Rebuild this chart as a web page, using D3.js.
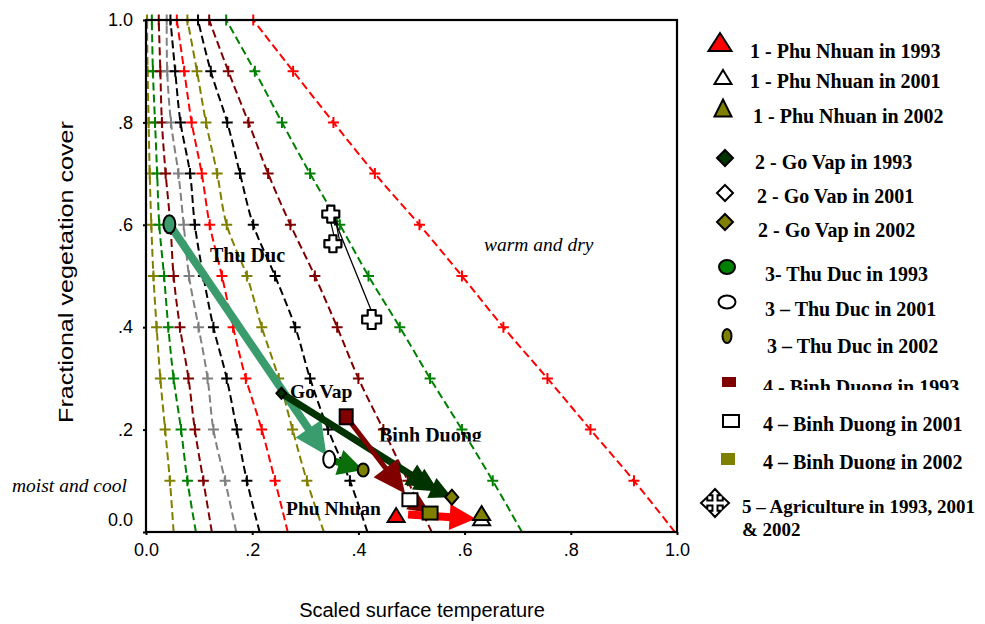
<!DOCTYPE html>
<html><head><meta charset="utf-8">
<script src="https://cdn.jsdelivr.net/npm/d3@7/dist/d3.min.js"></script>
<style>
body{margin:0;background:#fff;}
svg{display:block;}
</style></head>
<body>
<script>
// ---------- DATA ----------
const fvRows = [0, 0.1, 0.2, 0.3, 0.4, 0.5, 0.6, 0.7, 0.8, 0.9, 1.0];
// isolines: scaled surface temperature at each fractional vegetation row
const isoOlive1  = [0.052, 0.045, 0.036, 0.027, 0.020, 0.014, 0.010, 0.007, 0.005, 0.003, 0.002];
const isoGreen1  = [0.094, 0.078, 0.066, 0.052, 0.042, 0.034, 0.025, 0.021, 0.017, 0.013, 0.011];
const isoDarkred1= [0.124, 0.108, 0.092, 0.080, 0.064, 0.052, 0.046, 0.037, 0.030, 0.027, 0.024];
const isoGray    = [0.170, 0.149, 0.127, 0.116, 0.099, 0.081, 0.071, 0.061, 0.047, 0.040, 0.039];
const isoBlack1  = [0.214, 0.190, 0.171, 0.152, 0.127, 0.108, 0.092, 0.083, 0.065, 0.055, 0.046];
const isoRed1    = [0.267, 0.243, 0.218, 0.188, 0.164, 0.143, 0.120, 0.105, 0.086, 0.072, 0.058];
const isoOlive2  = [0.335, 0.303, 0.276, 0.250, 0.218, 0.190, 0.152, 0.134, 0.113, 0.096, 0.078];
const isoBlack2  = [0.417, 0.384, 0.343, 0.309, 0.281, 0.243, 0.202, 0.177, 0.153, 0.122, 0.098];
const isoDarkred2= [0.538, 0.493, 0.447, 0.400, 0.360, 0.318, 0.272, 0.230, 0.193, 0.155, 0.119];
const isoGreen2  = [0.708, 0.653, 0.595, 0.535, 0.478, 0.419, 0.365, 0.309, 0.256, 0.205, 0.151];
const isoRed2    = [0.996, 0.919, 0.837, 0.756, 0.673, 0.595, 0.515, 0.431, 0.353, 0.277, 0.202];

const years = ["1993", "2001", "2002"];
const phuNhuanT  = [0.471, 0.632, 0.632];
const phuNhuanF  = [0.033, 0.027, 0.037];
const goVapT     = [0.255, 0.540, 0.576];
const goVapF     = [0.271, 0.085, 0.068];
const thuDucT    = [0.044, 0.345, 0.409];
const thuDucF    = [0.601, 0.142, 0.121];
const binhDuongT = [0.377, 0.497, 0.535];
const binhDuongF = [0.225, 0.063, 0.037];
const agriT      = [0.348, 0.352, 0.425];
const agriF      = [0.621, 0.563, 0.415];

const xTicks = [0, 0.2, 0.4, 0.6, 0.8, 1.0];
const yTicks = [0, 0.2, 0.4, 0.6, 0.8, 1.0];

const legendLabels = [
  "1 - Phu Nhuan in 1993", "1 - Phu Nhuan in 2001", "1 - Phu Nhuan in 2002",
  "2 - Go Vap in 1993", "2 - Go Vap in 2001", "2 - Go Vap in 2002",
  "3- Thu Duc in 1993", "3 \u2013 Thu Duc in 2001", "3 \u2013 Thu Duc in 2002",
  "4 - Binh Duong in 1993", "4 \u2013 Binh Duong in 2001", "4 \u2013 Binh Duong in 2002",
  "5 \u2013 Agriculture in 1993, 2001", "& 2002"
];

// ---------- LAYOUT ----------
const W = 985, H = 624;
const x = d3.scaleLinear().domain([0, 1]).range([146, 677]);
const y = d3.scaleLinear().domain([0, 1]).range([532, 20]);
const serif = "'Liberation Serif','Times New Roman',serif";
const sans = "'Liberation Sans',Arial,sans-serif";

const svg = d3.select("body").append("svg").attr("width", W).attr("height", H);
const defs = svg.append("defs");
defs.append("clipPath").attr("id", "plotClip").append("rect")
  .attr("x", x(0)).attr("y", y(1) - 6).attr("width", x(1) - x(0) + 2).attr("height", y(0) - y(1) + 6);

// ---------- ISOLINES ----------
const isolines = [
  {v: isoOlive1, c: "#808000"}, {v: isoGreen1, c: "#008000"}, {v: isoDarkred1, c: "#800000"},
  {v: isoGray, c: "#808080"}, {v: isoBlack1, c: "#000000"}, {v: isoRed1, c: "#ff0000"},
  {v: isoOlive2, c: "#808000"}, {v: isoBlack2, c: "#000000"}, {v: isoDarkred2, c: "#800000"},
  {v: isoGreen2, c: "#008000"}, {v: isoRed2, c: "#ff0000"}
];
const lineGen = d3.line().x(d => x(d[0])).y(d => y(d[1])).curve(d3.curveCatmullRom.alpha(0.5));
const gIso = svg.append("g").attr("clip-path", "url(#plotClip)");
isolines.forEach(iso => {
  const pts = iso.v.map((t, i) => [t, fvRows[i]]);
  gIso.append("path").attr("d", lineGen(pts)).attr("fill", "none")
    .attr("stroke", iso.c).attr("stroke-width", 2).attr("stroke-dasharray", "8,4");
  pts.slice(1).forEach(p => {
    const px = x(p[0]), py = y(p[1]);
    gIso.append("path").attr("d", `M${px - 5.5},${py}H${px + 5.5}M${px},${py - 5.5}V${py + 5.5}`)
      .attr("stroke", iso.c).attr("stroke-width", 2);
  });
});

// ---------- AXES & FRAME ----------
const fmt = d => (d === 0 ? "0.0" : d === 1 ? "1.0" : d3.format(".1f")(d).replace(/^0/, ""));
const gx = svg.append("g").attr("transform", `translate(0,${y(0)})`)
  .call(d3.axisBottom(x).tickValues(xTicks).tickFormat(fmt).tickSize(3).tickPadding(7));
const gy = svg.append("g").attr("transform", `translate(${x(0)},0)`)
  .call(d3.axisLeft(y).tickValues(yTicks).tickFormat(fmt).tickSize(3).tickPadding(10));
[gx, gy].forEach(g => {
  g.select(".domain").remove();
  g.selectAll(".tick line").attr("stroke", "#000").attr("stroke-width", 2);
  g.selectAll(".tick text").attr("font-family", sans).attr("font-size", 18).attr("fill", "#000");
});
gx.selectAll(".tick text").attr("dy", "0.8em");
gy.selectAll(".tick").filter(d => d === 0).select("text").attr("dy", "-0.35em");
svg.append("rect").attr("x", x(0)).attr("y", y(1)).attr("width", x(1) - x(0)).attr("height", y(0) - y(1))
  .attr("fill", "none").attr("stroke", "#000").attr("stroke-width", 2.2);

svg.append("text").attr("x", 422).attr("y", 617).attr("text-anchor", "middle")
  .attr("font-family", sans).attr("font-size", 20).text("Scaled surface temperature");
svg.append("text").attr("transform", "translate(73,272) rotate(-90) scale(1.29,1)")
  .attr("text-anchor", "middle").attr("font-family", sans).attr("font-size", 19.5)
  .text("Fractional vegetation cover");

// ---------- ARROWS ----------
const gArr = svg.append("g");
function arrow(x1, y1, x2, y2, color, sw, hl, hw, s0, s1) {
  const dx = x2 - x1, dy = y2 - y1, len = Math.hypot(dx, dy);
  const ux = dx / len, uy = dy / len, px = -uy, py = ux;
  const sx = x1 + ux * s0, sy = y1 + uy * s0;
  const tx = x2 - ux * s1, ty = y2 - uy * s1;
  const bx = tx - ux * hl, by = ty - uy * hl;
  gArr.append("line").attr("x1", sx).attr("y1", sy).attr("x2", bx + ux * 2).attr("y2", by + uy * 2)
    .attr("stroke", color).attr("stroke-width", sw);
  gArr.append("path")
    .attr("d", `M${tx},${ty}L${bx + px * hw / 2},${by + py * hw / 2}L${bx - px * hw / 2},${by - py * hw / 2}Z`)
    .attr("fill", color);
}
// agriculture thin lines
gArr.append("line").attr("x1", x(agriT[2])).attr("y1", y(agriF[2]) - 8)
  .attr("x2", x(agriT[0]) + 3).attr("y2", y(agriF[0]) + 4).attr("stroke", "#000").attr("stroke-width", 1.3);
arrow(x(agriT[0]) - 2, y(agriF[0]), x(agriT[1]) + 3, y(agriF[1]), "#000", 1.2, 7, 5, 2, 2);
arrow(x(agriT[1]) + 8, y(agriF[1]) + 4, x(agriT[0]) + 4, y(agriF[0]) + 2, "#000", 1.2, 7, 5, 0, 2);

// Thu Duc
arrow(x(thuDucT[0]), y(thuDucF[0]), x(thuDucT[1]), y(thuDucF[1]), "#3a9c6c", 8, 32, 31, 0, 5);
arrow(x(thuDucT[1]), y(thuDucF[1]), x(thuDucT[2]), y(thuDucF[2]), "#0a6e0a", 7, 25, 26, 0, 0);
// Go Vap
arrow(x(goVapT[0]), y(goVapF[0]), x(goVapT[1]), y(goVapF[1]), "#003300", 7, 26, 24, 0, 0);
arrow(x(goVapT[1]) - 14, y(goVapF[1]) - 9, x(goVapT[1]) + 6, y(goVapF[1]) + 3, "#003300", 7, 24, 24, 0, 0);
arrow(x(goVapT[1]), y(goVapF[1]), x(goVapT[2]), y(goVapF[2]), "#003300", 7, 22, 22, 0, 0);
// Binh Duong
arrow(x(binhDuongT[0]), y(binhDuongF[0]), x(binhDuongT[1]), y(binhDuongF[1]), "#800000", 5, 32, 30, 6, 8);
arrow(x(binhDuongT[1]), y(binhDuongF[1]), x(binhDuongT[2]), y(binhDuongF[2]), "#800000", 5, 22, 20, 0, 0);
// Phu Nhuan
arrow(x(phuNhuanT[0]), y(phuNhuanF[0]) - 1.5, x(phuNhuanT[1]), y(phuNhuanF[1]) + 1, "#ff0000", 8, 26, 26, 12, 6);

// ---------- MARKERS ----------
function triPath(cx, cy, w, h) {
  return `M${cx},${cy - h / 2}L${cx + w / 2},${cy + h / 2}L${cx - w / 2},${cy + h / 2}Z`;
}
function diaPath(cx, cy, w, h) {
  return `M${cx},${cy - h / 2}L${cx + w / 2},${cy}L${cx},${cy + h / 2}L${cx - w / 2},${cy}Z`;
}
function crossPath(cx, cy, R, arm) {
  const h = R * 0.45, b = R * 0.42, a = R * (arm || 0.18);
  const p = [[0, -R], [b, -R + h], [a, -R + h], [a, -a], [R - h, -a], [R - h, -b], [R, 0], [R - h, b], [R - h, a],
    [a, a], [a, R - h], [b, R - h], [0, R], [-b, R - h], [-a, R - h], [-a, a], [-R + h, a], [-R + h, b], [-R, 0],
    [-R + h, -b], [-R + h, -a], [-a, -a], [-a, -R + h], [-b, -R + h]];
  return "M" + p.map(q => `${cx + q[0]},${cy + q[1]}`).join("L") + "Z";
}
function puffyCross(cx, cy, R) {
  const a = R * 0.42;
  const p = [[-a, -R], [a, -R], [a, -a], [R, -a], [R, a], [a, a], [a, R], [-a, R], [-a, a], [-R, a], [-R, -a], [-a, -a]];
  return "M" + p.map(q => `${cx + q[0]},${cy + q[1]}`).join("L") + "Z";
}
const gM = svg.append("g");
const stroke = (sel, w = 2) => sel.attr("stroke", "#000").attr("stroke-width", w);

// agriculture crosses
agriT.forEach((t, i) => stroke(gM.append("path").attr("d", puffyCross(x(t), y(agriF[i]), i === 2 ? 9.5 : 8.5))
  .attr("fill", "#fff").attr("stroke-linejoin", "round"), 2.2));
// Thu Duc ellipses
const tdFill = ["#3a9c6c", "#ffffff", "#808000"];
const tdR = [[6, 9], [6, 8.5], [5.5, 6.5]];
thuDucT.forEach((t, i) => stroke(gM.append("ellipse").attr("cx", x(t)).attr("cy", y(thuDucF[i]))
  .attr("rx", tdR[i][0]).attr("ry", tdR[i][1]).attr("fill", tdFill[i])));
// Go Vap diamonds (2001 hidden under arrowheads in reference)
const gvFill = ["#003300", "#ffffff", "#808000"];
const gvS = [[10, 11], [0, 0], [13, 15]];
goVapT.forEach((t, i) => { if (gvS[i][0]) stroke(gM.append("path").attr("d", diaPath(x(t), y(goVapF[i]), gvS[i][0], gvS[i][1])).attr("fill", gvFill[i])); });
// Binh Duong squares
const bdFill = ["#800000", "#ffffff", "#808000"];
const bdS = [[13, 15], [15, 13], [15, 13]];
binhDuongT.forEach((t, i) => stroke(gM.append("rect").attr("x", x(t) - bdS[i][0] / 2).attr("y", y(binhDuongF[i]) - bdS[i][1] / 2)
  .attr("width", bdS[i][0]).attr("height", bdS[i][1]).attr("fill", bdFill[i])));
// Phu Nhuan triangles
const pnFill = ["#ff0000", "#ffffff", "#808000"];
phuNhuanT.forEach((t, i) => stroke(gM.append("path").attr("d", triPath(x(t), y(phuNhuanF[i]), 17, 14)).attr("fill", pnFill[i])));

// ---------- LABELS ----------
defs.append("clipPath").attr("id", "bdClip").append("rect").attr("x", 300).attr("y", 400).attr("width", 300).attr("height", 41.5);
const lab = (t, lx, ly, opts = {}) => svg.append("text").attr("x", lx).attr("y", ly)
  .attr("font-family", serif).attr("font-size", opts.size || 20)
  .attr("font-weight", opts.italic ? "normal" : "bold").attr("font-style", opts.italic ? "italic" : "normal")
  .attr("clip-path", opts.clip ? `url(#${opts.clip})` : null).text(t);
lab("Thu Duc", 210, 262);
lab("Go Vap", 290, 398, {size: 19.5});
lab("Binh Duong", 379, 442, {clip: "bdClip"});
lab("Phu Nhuan", 286, 515, {size: 19.5});
lab("warm and dry", 484, 251, {italic: true, size: 19.5});
lab("moist and cool", 12, 492, {italic: true, size: 19.5});

// ---------- LEGEND ----------
const legendLayout = [
  {mx: 720, my: 42, tx: 750, ty: 58},
  {mx: 723, my: 77, tx: 750, ty: 88},
  {mx: 723, my: 108, tx: 753, ty: 123},
  {mx: 725, my: 158, tx: 755, ty: 169},
  {mx: 725, my: 193, tx: 757, ty: 203, clip: 203},
  {mx: 725, my: 222, tx: 758, ty: 237},
  {mx: 727, my: 267, tx: 765, ty: 281},
  {mx: 727, my: 302, tx: 765, ty: 316},
  {mx: 727, my: 336, tx: 767, ty: 353},
  {mx: 729, my: 382, tx: 763, ty: 394, clip: 390},
  {mx: 731, my: 421, tx: 763, ty: 431},
  {mx: 728, my: 459, tx: 763, ty: 469, clip: 469.5},
  {mx: 715, my: 503, tx: 742, ty: 513, size: 19},
  {mx: null, my: null, tx: 742, ty: 536, size: 19}
];
const gL = svg.append("g");
const lm = legendLayout;
stroke(gL.append("path").attr("d", triPath(lm[0].mx, lm[0].my, 23, 18)).attr("fill", "#ff0000"));
stroke(gL.append("path").attr("d", triPath(lm[1].mx, lm[1].my, 17, 14)).attr("fill", "#ffffff"));
stroke(gL.append("path").attr("d", triPath(lm[2].mx, lm[2].my, 17, 17)).attr("fill", "#808000"));
stroke(gL.append("path").attr("d", diaPath(lm[3].mx, lm[3].my, 16, 16)).attr("fill", "#003300"));
stroke(gL.append("path").attr("d", diaPath(lm[4].mx, lm[4].my, 16, 16)).attr("fill", "#ffffff"));
stroke(gL.append("path").attr("d", diaPath(lm[5].mx, lm[5].my, 16, 16)).attr("fill", "#808000"));
stroke(gL.append("ellipse").attr("cx", lm[6].mx).attr("cy", lm[6].my).attr("rx", 8).attr("ry", 7).attr("fill", "#008000"));
stroke(gL.append("ellipse").attr("cx", lm[7].mx).attr("cy", lm[7].my).attr("rx", 8.5).attr("ry", 6.5).attr("fill", "#ffffff"));
stroke(gL.append("ellipse").attr("cx", lm[8].mx).attr("cy", lm[8].my).attr("rx", 4.5).attr("ry", 7).attr("fill", "#808000"));
gL.append("rect").attr("x", lm[9].mx - 7).attr("y", lm[9].my - 5).attr("width", 14).attr("height", 10).attr("fill", "#800000");
stroke(gL.append("rect").attr("x", lm[10].mx - 8).attr("y", lm[10].my - 6).attr("width", 16).attr("height", 12).attr("fill", "#ffffff"));
gL.append("rect").attr("x", lm[11].mx - 7).attr("y", lm[11].my - 6).attr("width", 14).attr("height", 12).attr("fill", "#808000");
stroke(gL.append("path").attr("d", crossPath(lm[12].mx, lm[12].my, 14)).attr("fill", "#ffffff"));

legendLabels.forEach((t, i) => {
  const L = legendLayout[i];
  let cp = null;
  if (L.clip) {
    const id = "lc" + i;
    defs.append("clipPath").attr("id", id).append("rect").attr("x", 690).attr("y", L.ty - 30).attr("width", 300).attr("height", L.clip - (L.ty - 30));
    cp = `url(#${id})`;
  }
  gL.append("text").attr("x", L.tx).attr("y", L.ty).attr("font-family", serif).attr("font-size", L.size || 20)
    .attr("font-weight", "bold").attr("clip-path", cp).text(t);
});
</script>
</body></html>
